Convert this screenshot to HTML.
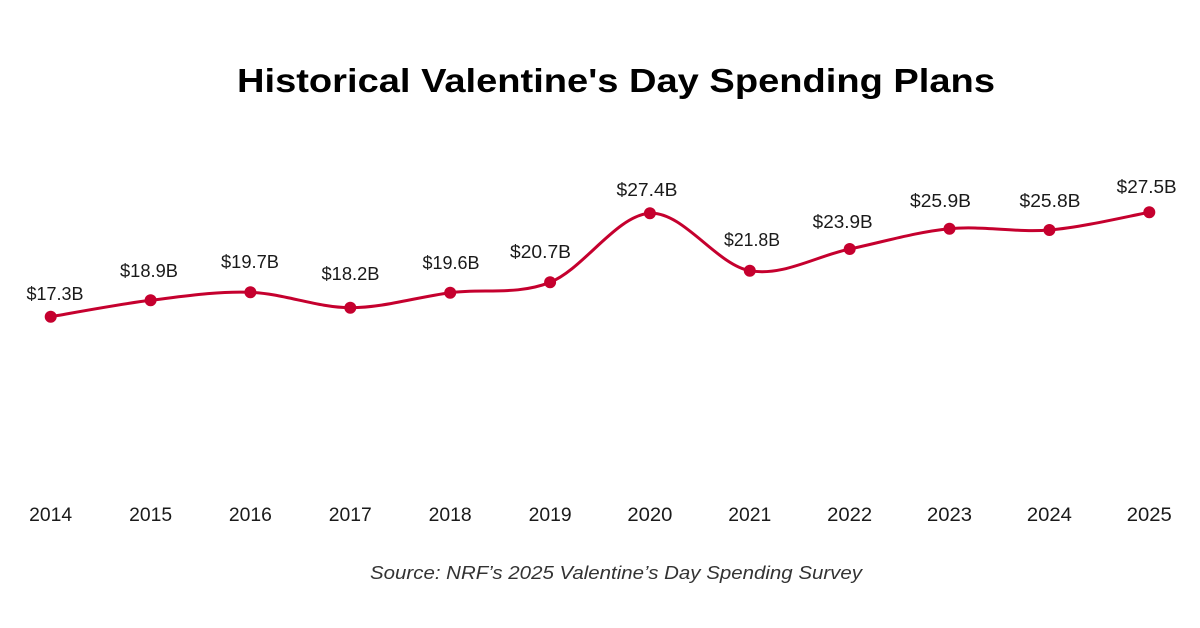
<!DOCTYPE html>
<html>
<head>
<meta charset="utf-8">
<style>
  html,body{margin:0;padding:0;background:#fff;}
  svg{display:block;}
  text{font-family:"Liberation Sans", sans-serif;}
</style>
</head>
<body>
<svg width="1200" height="628" viewBox="0 0 1200 628" xmlns="http://www.w3.org/2000/svg">
  <rect width="1200" height="628" fill="#ffffff"/>
  <text x="616" y="92" text-anchor="middle" font-size="33" font-weight="bold" fill="#000" textLength="758" lengthAdjust="spacingAndGlyphs">Historical Valentine's Day Spending Plans</text>

  <path d="M 50.7 316.7
    C 67.3 313.97, 117.3 304.37, 150.6 300.3
    C 183.9 296.23, 217.1 291.07, 250.4 292.3
    C 283.7 293.53, 317.0 307.63, 350.3 307.7
    C 383.6 307.77, 416.9 296.93, 450.2 292.7
    C 483.5 288.47, 516.8 295.53, 550.1 282.3
    C 583.4 269.07, 616.6 215.23, 649.9 213.3
    C 683.2 211.37, 716.5 264.75, 749.8 270.7
    C 783.1 276.65, 816.4 256.0, 849.7 249
    C 883.0 242.0, 916.2 231.87, 949.5 228.7
    C 982.8 225.53, 1016.1 232.73, 1049.4 230
    C 1082.7 227.27, 1132.65 215.25, 1149.3 212.3"
    fill="none" stroke="#c5002e" stroke-width="3" stroke-linecap="round"/>

  <g fill="#c5002e">
    <circle cx="50.7" cy="316.7" r="6"/>
    <circle cx="150.6" cy="300.3" r="6"/>
    <circle cx="250.4" cy="292.3" r="6"/>
    <circle cx="350.3" cy="307.7" r="6"/>
    <circle cx="450.2" cy="292.7" r="6"/>
    <circle cx="550.1" cy="282.3" r="6"/>
    <circle cx="649.9" cy="213.3" r="6"/>
    <circle cx="749.8" cy="270.7" r="6"/>
    <circle cx="849.7" cy="249" r="6"/>
    <circle cx="949.5" cy="228.7" r="6"/>
    <circle cx="1049.4" cy="230" r="6"/>
    <circle cx="1149.3" cy="212.3" r="6"/>
  </g>

  <g font-size="18" fill="#1a1a1a" text-anchor="middle">
    <text x="55" y="300" textLength="57" lengthAdjust="spacingAndGlyphs">$17.3B</text>
    <text x="149" y="277" textLength="58" lengthAdjust="spacingAndGlyphs">$18.9B</text>
    <text x="250" y="268" textLength="58" lengthAdjust="spacingAndGlyphs">$19.7B</text>
    <text x="350.5" y="280" textLength="58" lengthAdjust="spacingAndGlyphs">$18.2B</text>
    <text x="451" y="269" textLength="57" lengthAdjust="spacingAndGlyphs">$19.6B</text>
    <text x="540.5" y="258" textLength="61" lengthAdjust="spacingAndGlyphs">$20.7B</text>
    <text x="647" y="196" textLength="61" lengthAdjust="spacingAndGlyphs">$27.4B</text>
    <text x="752" y="246" textLength="56" lengthAdjust="spacingAndGlyphs">$21.8B</text>
    <text x="842.7" y="228" textLength="60" lengthAdjust="spacingAndGlyphs">$23.9B</text>
    <text x="940.5" y="207" textLength="61" lengthAdjust="spacingAndGlyphs">$25.9B</text>
    <text x="1050" y="207" textLength="61" lengthAdjust="spacingAndGlyphs">$25.8B</text>
    <text x="1146.7" y="193" textLength="60" lengthAdjust="spacingAndGlyphs">$27.5B</text>
  </g>

  <g font-size="19" fill="#1a1a1a" text-anchor="middle">
    <text x="50.7" y="521" textLength="43" lengthAdjust="spacingAndGlyphs">2014</text>
    <text x="150.6" y="521" textLength="43" lengthAdjust="spacingAndGlyphs">2015</text>
    <text x="250.4" y="521" textLength="43" lengthAdjust="spacingAndGlyphs">2016</text>
    <text x="350.3" y="521" textLength="43" lengthAdjust="spacingAndGlyphs">2017</text>
    <text x="450.2" y="521" textLength="43" lengthAdjust="spacingAndGlyphs">2018</text>
    <text x="550.1" y="521" textLength="43" lengthAdjust="spacingAndGlyphs">2019</text>
    <text x="649.9" y="521" textLength="45" lengthAdjust="spacingAndGlyphs">2020</text>
    <text x="749.8" y="521" textLength="43" lengthAdjust="spacingAndGlyphs">2021</text>
    <text x="849.7" y="521" textLength="45" lengthAdjust="spacingAndGlyphs">2022</text>
    <text x="949.5" y="521" textLength="45" lengthAdjust="spacingAndGlyphs">2023</text>
    <text x="1049.4" y="521" textLength="45" lengthAdjust="spacingAndGlyphs">2024</text>
    <text x="1149.3" y="521" textLength="45" lengthAdjust="spacingAndGlyphs">2025</text>
  </g>

  <text x="616" y="579" text-anchor="middle" font-size="18" font-style="italic" fill="#333" textLength="492" lengthAdjust="spacingAndGlyphs">Source: NRF’s 2025 Valentine’s Day Spending Survey</text>
</svg>
</body>
</html>
